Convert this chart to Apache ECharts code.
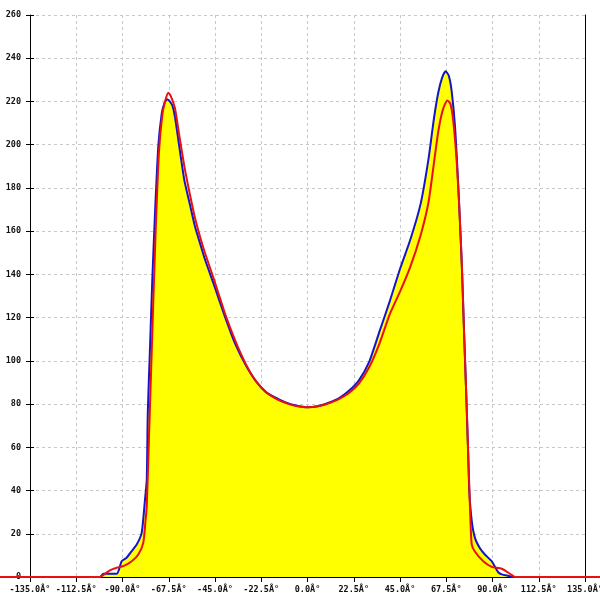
<!DOCTYPE html>
<html>
<head>
<meta charset="utf-8">
<script src="https://cdn.jsdelivr.net/npm/echarts@6/dist/echarts.min.js"></script>
<style>html,body{margin:0;padding:0;background:#fff}#c{width:600px;height:600px}</style>
</head>
<body>
<div id="c"></div>
<script>
const xTicks = [-135, -112.5, -90, -67.5, -45, -22.5, 0, 22.5, 45, 67.5, 90, 112.5, 135];
const xTickLabels = ['-135.0Â°', '-112.5Â°', '-90.0Â°', '-67.5Â°', '-45.0Â°', '-22.5Â°', '0.0Â°', '22.5Â°', '45.0Â°', '67.5Â°', '90.0Â°', '112.5Â°', '135.0Â°'];
const yTicks = [0, 20, 40, 60, 80, 100, 120, 140, 160, 180, 200, 220, 240, 260];

const blueAngles = [-150, -101, -99.3, -92.8, -90.4, -88.0, -85.5, -83.1, -80.7, -79.05, -78.2, -77.7, -76.6, -75.5, -74.2, -72.6, -70.9, -69.5, -68.3, -67.0, -65.7, -64.5, -62.5, -59.9, -57, -54.7, -52, -49.9, -45.8, -40, -35, -30, -25, -20, -15, -10, -5, 0, 5, 10, 15, 20, 25, 30, 35, 40, 45, 50, 55, 58.8, 61.5, 63.6, 65.5, 67.2, 68.7, 70.1, 71.8, 73.4, 75.0, 76.0, 77.1, 78.2, 78.7, 79.9, 81.5, 83.9, 86.3, 89.6, 91.2, 92.8, 94.5, 98.5, 99.5, 150];
const blueValues = [0, 0, 1.5, 1.5, 7.3, 8.9, 12, 15, 20.3, 35.8, 45, 76, 106.6, 137.6, 168, 199, 214.5, 219.5, 221, 220, 218, 213, 200, 183.5, 171.5, 162, 153.5, 147, 136, 120, 107.5, 98, 90.5, 85.3, 82.7, 80.5, 79.2, 78.5, 79, 80.5, 82.5, 86, 91, 99.5, 113.5, 127.5, 142.5, 156, 172.5, 193, 212, 224, 231, 234, 232, 225, 208, 180, 146, 118, 88, 56, 40, 26, 18, 13.3, 10.4, 7.3, 4.7, 2.2, 1.2, 0.4, 0, 0];

const redAngles = [-150, -101, -100.1, -96.1, -92.8, -89.6, -85.5, -82.3, -79.9, -78.9, -78.2, -77.2, -76.1, -75.0, -73.8, -72.3, -70.6, -69.0, -67.7, -66.5, -64.5, -62.5, -59.9, -57, -54.7, -52, -49.9, -45.8, -40, -35, -30, -25, -20, -15, -10, -5, 0, 5, 10, 15, 20, 25, 30, 35, 40, 45, 50, 55, 58.8, 61.3, 63.6, 65.8, 68.0, 69.5, 70.9, 72.6, 73.8, 75.2, 76.2, 77.4, 78.5, 79.2, 79.9, 81.5, 85.5, 89.6, 94.5, 98.5, 100.1, 101, 150];
const redValues = [0, 0, 0.4, 3.1, 4.3, 5, 7.3, 10.4, 15.8, 25, 32.7, 62, 95, 128, 162, 196, 214, 221, 224, 222.5, 217, 205, 190, 176, 166, 156.5, 150, 138.5, 121.5, 109, 98.5, 90.5, 85.5, 82.3, 80.3, 79, 78.5, 79, 80.3, 82.2, 85, 89.5, 97, 108, 121.5, 132, 143.5, 158, 173, 190, 206, 216, 220.5, 219, 211, 192, 172, 142, 112, 80, 48, 28, 15, 11.7, 7.3, 4.7, 3.8, 1.5, 0.4, 0, 0];

const zip = (a, b) => a.map((x, i) => [x, b[i]]);
const labelFont = { fontFamily: 'DejaVu Sans Mono', fontSize: 8.5, fontWeight: 'bold', color: '#111' };

// plot area geometry
const W = 600, L = 30, R = 15, T = 15, B = 23;
const degPerPx = (xTicks[xTicks.length - 1] - xTicks[0]) / (W - L - R);
const yAx = (extra) => Object.assign({
  type: 'value', min: yTicks[0], max: yTicks[yTicks.length - 1], interval: 20
}, extra);

const chart = echarts.init(document.getElementById('c'), null, { renderer: 'canvas' });
chart.setOption({
  animation: false,
  backgroundColor: '#fff',
  grid: [
    { left: L, right: R, top: T, bottom: B, containLabel: false, outerBoundsMode: 'none' },
    { left: 0, right: 0, top: T, bottom: B, containLabel: false, outerBoundsMode: 'none' }
  ],
  xAxis: [
    {
      gridIndex: 0, type: 'value', min: xTicks[0], max: xTicks[xTicks.length - 1], interval: 22.5,
      axisLine: { show: true, onZero: false, lineStyle: { color: '#000', width: 1 } },
      axisTick: { show: true, length: 5, lineStyle: { color: '#000' } },
      axisLabel: Object.assign({ margin: 8, formatter: v => { const i = xTicks.indexOf(v); return i >= 0 ? xTickLabels[i] : ''; } }, labelFont),
      splitLine: { show: true, lineStyle: { color: '#c8c8c8', type: [3, 3], width: 1 } }
    },
    {
      gridIndex: 1, type: 'value', min: xTicks[0] - L * degPerPx, max: xTicks[xTicks.length - 1] + R * degPerPx,
      show: false, splitLine: { show: false }
    }
  ],
  yAxis: [
    yAx({
      gridIndex: 0, position: 'left',
      axisLine: { show: true, onZero: false, lineStyle: { color: '#000', width: 1 } },
      axisTick: { show: true, length: 4, lineStyle: { color: '#000' } },
      axisLabel: Object.assign({ margin: 9 }, labelFont),
      splitLine: { show: true, lineStyle: { color: '#c8c8c8', type: [3, 3], width: 1 } }
    }),
    yAx({
      gridIndex: 0, position: 'left',
      axisLine: { show: false, onZero: false },
      axisTick: { show: true, inside: true, length: 4, lineStyle: { color: '#000' } },
      axisLabel: { show: false }, splitLine: { show: false }
    }),
    yAx({
      gridIndex: 0, position: 'right',
      axisLine: { show: true, onZero: false, lineStyle: { color: '#000', width: 1 } },
      axisTick: { show: false }, axisLabel: { show: false }, splitLine: { show: false }
    }),
    yAx({ gridIndex: 1, show: false, splitLine: { show: false } })
  ],
  series: [
    {
      type: 'line', xAxisIndex: 0, yAxisIndex: 0, data: zip(blueAngles, blueValues), showSymbol: false, smooth: 0.2,
      lineStyle: { color: '#1414c8', width: 2 }, itemStyle: { color: '#1414c8' },
      areaStyle: { color: '#ffff00', opacity: 1 }, z: 3
    },
    {
      type: 'line', xAxisIndex: 1, yAxisIndex: 3, data: zip(redAngles, redValues), showSymbol: false, smooth: 0.2,
      lineStyle: { color: '#e81010', width: 2 }, itemStyle: { color: '#e81010' }, z: 4
    }
  ]
});
</script>
</body>
</html>
